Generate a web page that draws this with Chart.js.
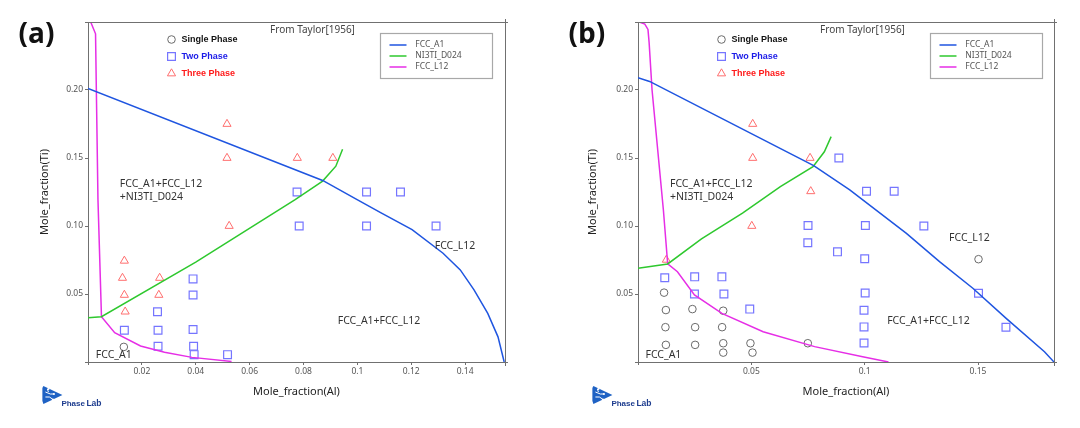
<!DOCTYPE html>
<html><head><meta charset="utf-8">
<script src="https://cdn.jsdelivr.net/npm/chart.js@4.4.1/dist/chart.umd.min.js"></script>
<style>
html,body{margin:0;padding:0;background:#fff;}
#wrap{position:relative;width:1080px;height:428px;overflow:hidden;}
canvas{position:absolute;top:0;}
#ca{left:0}#cb{left:540px}
</style></head><body>
<div id="wrap"><canvas id="ca" width="540" height="428"></canvas><canvas id="cb" width="540" height="428"></canvas></div>
<script>
// ---------- data ----------
const seriesNames = ['FCC_A1', 'NI3TI_D024', 'FCC_L12'];
const markerNames = ['Single Phase', 'Two Phase', 'Three Phase'];
const panelLabels = ['(a)', '(b)'];
const sourceNote = 'From Taylor[1956]';
const xTitle = 'Mole_fraction(Al)';
const yTitle = 'Mole_fraction(Ti)';

const yTickValues = [0, 0.05, 0.10, 0.15, 0.20, 0.25];
const yTickLabels = ['', '0.05', '0.10', '0.15', '0.20', ''];
const xTickValuesA = [0, 0.02, 0.04, 0.06, 0.08, 0.10, 0.12, 0.14];
const xTickLabelsA = ['', '0.02', '0.04', '0.06', '0.08', '0.1', '0.12', '0.14'];
const xTickValuesB = [0, 0.05, 0.10, 0.15];
const xTickLabelsB = ['', '0.05', '0.1', '0.15'];

// panel (a)
const fccA1_A = [[0,0.2012],[0.0871,0.1335],[0.0999,0.1194],[0.1088,0.1096],[0.1203,0.0973],[0.1318,0.080],[0.1382,0.0677],[0.1433,0.053],[0.1484,0.0357],[0.1522,0.0185],[0.1545,0]];
const ni3ti_A = [[0,0.0326],[0.005,0.0333],[0.04,0.0735],[0.0769,0.1194],[0.0871,0.133],[0.092,0.144],[0.0945,0.1564]];
const fccL12_A = [[0.001,0.25],[0.0028,0.2413],[0.0031,0.20],[0.0037,0.1194],[0.005,0.0333],[0.0099,0.0216],[0.0195,0.0118],[0.0284,0.0071],[0.0386,0.0034],[0.0533,0.0004]];
const single_A = [[0.0133,0.0111]];
const two_A = [[0.0776,0.125],[0.1034,0.125],[0.116,0.125],[0.0784,0.10],[0.1034,0.10],[0.1292,0.10],[0.039,0.0611],[0.039,0.0493],[0.0258,0.037],[0.0135,0.0234],[0.026,0.0234],[0.039,0.0239],[0.026,0.0116],[0.0392,0.0116],[0.0394,0.0054],[0.0518,0.0054]];
const three_A = [[0.0516,0.175],[0.0516,0.15],[0.0777,0.15],[0.0909,0.15],[0.0524,0.10],[0.0135,0.0744],[0.0128,0.0618],[0.0266,0.0618],[0.0135,0.0493],[0.0263,0.0493],[0.0138,0.037]];
const regionLabelsA = [['FCC_A1+FCC_L12',0.0118,0.1309],['+NI3TI_D024',0.0118,0.1213],['FCC_L12',0.1287,0.0853],['FCC_A1+FCC_L12',0.0927,0.0301],['FCC_A1',0.0029,0.0051]];

// panel (b)
const fccA1_B = [[0,0.2090],[0.0051,0.2063],[0.0775,0.1444],[0.0934,0.1265],[0.1184,0.0946],[0.133,0.0738],[0.1477,0.0542],[0.1624,0.0321],[0.1793,0.0076],[0.1835,0]];
const ni3ti_B = [[0,0.0689],[0.0131,0.0721],[0.028,0.0905],[0.0461,0.1095],[0.0628,0.1289],[0.0772,0.1436],[0.0822,0.1546],[0.0852,0.1657]];
const fccL12_B = [[0.0006,0.25],[0.003,0.2485],[0.0044,0.2445],[0.0049,0.235],[0.0062,0.20],[0.0112,0.1118],[0.0131,0.0721],[0.0174,0.0664],[0.0249,0.0493],[0.037,0.0358],[0.0552,0.0223],[0.0779,0.0113],[0.0991,0.0039],[0.1105,0]];
const single_B = [[0.0115,0.051],[0.0123,0.0382],[0.024,0.0389],[0.0376,0.0377],[0.0121,0.0256],[0.0252,0.0256],[0.0371,0.0256],[0.0123,0.0126],[0.0252,0.0126],[0.0376,0.0138],[0.0496,0.0138],[0.0749,0.0138],[0.0376,0.0069],[0.0505,0.0069],[0.1502,0.0756]];
const two_B = [[0.0886,0.150],[0.1008,0.1255],[0.113,0.1255],[0.075,0.1004],[0.1003,0.1004],[0.1261,0.100],[0.0749,0.0877],[0.088,0.081],[0.1,0.0759],[0.0118,0.062],[0.025,0.0626],[0.037,0.0626],[0.0249,0.05],[0.0379,0.05],[0.1002,0.0507],[0.1502,0.0505],[0.0493,0.0389],[0.0997,0.038],[0.0997,0.0258],[0.1623,0.0256],[0.0997,0.014]];
const three_B = [[0.0506,0.175],[0.0506,0.15],[0.0759,0.15],[0.0762,0.1255],[0.0502,0.10],[0.0125,0.0751]];
const regionLabelsB = [['FCC_A1+FCC_L12',0.0141,0.1309],['+NI3TI_D024',0.0141,0.1213],['FCC_L12',0.1372,0.0912],['FCC_A1+FCC_L12',0.1099,0.0301],['FCC_A1',0.0033,0.0051]];

// ---------- styles ----------
const lineColors = ['#1f55e0', '#2ec82e', '#e62ee6'];
const markerStyles = [
  {pointStyle:'circle', radius:3.8, borderWidth:1, color:'#6a6a6a', text:'#111111'},
  {pointStyle:'rect', radius:5.5, borderWidth:1.2, color:'#7575ff', text:'#1c1ce8'},
  {pointStyle:'triangle', radius:4.7, borderWidth:1, color:'#ff6e6e', text:'#ff1a1a'}
];
const FONT = "'Noto Sans', 'DejaVu Sans', sans-serif";

const toXY = arr => arr.map(p => ({x:p[0], y:p[1]}));

function lineDs(name, pts, color) {
  return {label:name, data:toXY(pts), showLine:true, borderColor:color, backgroundColor:color,
          borderWidth:1.5, pointRadius:0, tension:0, fill:false};
}
function markDs(name, pts, st) {
  return {label:name, data:toXY(pts), showLine:false, pointStyle:st.pointStyle, pointRadius:st.radius,
          pointBorderWidth:st.borderWidth, pointBorderColor:st.color, pointBackgroundColor:'rgba(0,0,0,0)'};
}

function drawLogo(ctx, x, y) {
  ctx.save();
  ctx.fillStyle = '#1f62c4';
  ctx.beginPath();
  ctx.moveTo(x+1, y+1);
  ctx.lineTo(x+20, y+10);
  ctx.lineTo(x+1, y+19);
  ctx.lineTo(x, y+16);
  ctx.lineTo(x, y+3);
  ctx.closePath();
  ctx.fill();
  ctx.strokeStyle = '#ffffff';
  ctx.lineWidth = 1;
  ctx.beginPath();
  ctx.moveTo(x+3, y+7); ctx.lineTo(x+8, y+9); ctx.lineTo(x+11, y+9);
  ctx.moveTo(x+3, y+12); ctx.lineTo(x+7, y+12); ctx.lineTo(x+10, y+14);
  ctx.moveTo(x+5, y+4); ctx.lineTo(x+6, y+7);
  ctx.stroke();
  ctx.fillStyle = '#ffffff';
  [[11.5,9],[10.5,14.5],[6,4]].forEach(p => { ctx.beginPath(); ctx.arc(x+p[0], y+p[1], 1.1, 0, Math.PI*2); ctx.fill(); });
  ctx.fillStyle = '#1d3c8e';
  ctx.textAlign = 'left'; ctx.textBaseline = 'alphabetic';
  ctx.font = "bold 8px 'Liberation Sans', Arial, sans-serif";
  ctx.fillText('Phase', x+19, y+20.5);
  ctx.font = "bold 8.5px 'Liberation Sans', Arial, sans-serif";
  ctx.fillText('Lab', x+44, y+20.5);
  ctx.restore();
}

const decor = {
  id: 'decor',
  afterDraw(chart, args, o) {
    const ctx = chart.ctx, ca = chart.chartArea, xs = chart.scales.x, ys = chart.scales.y;
    const L = ca.left, T = ca.top, R = ca.right, B = ca.bottom;
    ctx.save();
    // top and right frame
    ctx.strokeStyle = '#707070'; ctx.lineWidth = 1;
    ctx.beginPath();
    ctx.moveTo(L, Math.round(T)+0.5); ctx.lineTo(R+3, Math.round(T)+0.5);
    ctx.moveTo(Math.round(R)+0.5, T-3); ctx.lineTo(Math.round(R)+0.5, B+4);
    ctx.moveTo(R, Math.round(B)+0.5); ctx.lineTo(R+3, Math.round(B)+0.5);
    ctx.stroke();
    // region labels
    ctx.fillStyle = '#333'; ctx.font = "10.5px " + FONT; ctx.textAlign = 'left'; ctx.textBaseline = 'middle';
    o.regions.forEach(r => ctx.fillText(r[0], xs.getPixelForValue(r[1]), ys.getPixelForValue(r[2])));
    // source note
    ctx.fillStyle = '#444'; ctx.font = "10px " + FONT; ctx.textAlign = 'center';
    ctx.fillText(sourceNote, L + 224.5, 30);
    // line legend box
    ctx.strokeStyle = '#a8a8a8'; ctx.lineWidth = 1.2;
    ctx.strokeRect(Math.round(L+292.3)+0.5, 33.5, 112, 45);
    ctx.font = "8.5px " + FONT; ctx.textAlign = 'left';
    seriesNames.forEach((n, i) => {
      const yy = 45 + i*11;
      ctx.strokeStyle = lineColors[i]; ctx.lineWidth = 1.5;
      ctx.beginPath(); ctx.moveTo(L+301.5, yy); ctx.lineTo(L+318.5, yy); ctx.stroke();
      ctx.fillStyle = '#555'; ctx.fillText(n, L+327.3, yy);
    });
    // marker legend
    ctx.font = "bold 9px 'Liberation Sans', Arial, sans-serif";
    markerNames.forEach((n, i) => {
      const st = markerStyles[i], yy = 39.5 + i*17;
      ctx.strokeStyle = st.color; ctx.fillStyle = 'rgba(0,0,0,0)'; ctx.lineWidth = st.borderWidth;
      Chart.helpers.drawPoint(ctx, {pointStyle:st.pointStyle, radius:st.radius, borderWidth:st.borderWidth, rotation:0}, L+83.5, yy);
      ctx.fillStyle = st.text; ctx.fillText(n, L+93.5, yy);
    });
    // panel label
    ctx.fillStyle = '#111'; ctx.font = "bold 28px 'Open Sans', 'DejaVu Sans', sans-serif";
    ctx.textBaseline = 'middle';
    ctx.fillText(o.panel, L-69.5, 35);
    // logo
    drawLogo(ctx, L-45.6, 385);
    ctx.restore();
  }
};

function makeChart(id, cfg) {
  return new Chart(document.getElementById(id), {
    type: 'scatter',
    data: { datasets: [
      lineDs(seriesNames[0], cfg.a1, lineColors[0]),
      lineDs(seriesNames[1], cfg.d024, lineColors[1]),
      lineDs(seriesNames[2], cfg.l12, lineColors[2]),
      markDs(markerNames[0], cfg.single, markerStyles[0]),
      markDs(markerNames[1], cfg.two, markerStyles[1]),
      markDs(markerNames[2], cfg.three, markerStyles[2])
    ]},
    options: {
      responsive:false, animation:false, events:[],
      layout:{padding:{left:0, top:22, right:cfg.padRight, bottom:0}},
      plugins:{legend:{display:false}, tooltip:{enabled:false}, decor:{regions:cfg.regions, panel:cfg.panel}},
      scales:{
        x:{type:'linear', min:0, max:cfg.xMax,
           afterBuildTicks: s => { s.ticks = cfg.xTicks.map(v => ({value:v})); },
           afterFit: s => { s.height = 66; },
           ticks:{callback:(v,i) => cfg.xLabels[i], color:'#555', font:{family:FONT, size:8.5}, padding:1, maxRotation:0, autoSkip:false},
           grid:{drawOnChartArea:false, drawTicks:true, tickLength:3, color:'#707070', tickColor:'#707070'},
           border:{display:true, color:'#707070', width:1},
           title:{display:true, text:xTitle, color:'#222', font:{family:FONT, size:11}, padding:{top:0, bottom:29.4}}},
        y:{type:'linear', min:0, max:0.25,
           afterBuildTicks: s => { s.ticks = yTickValues.map(v => ({value:v})); },
           afterFit: s => { s.width = cfg.yWidth; },
           ticks:{callback:(v,i) => yTickLabels[i], color:'#555', font:{family:FONT, size:8.5}, padding:2, autoSkip:false},
           grid:{drawOnChartArea:false, drawTicks:true, tickLength:3, color:'#707070', tickColor:'#707070'},
           border:{display:true, color:'#707070', width:1},
           title:{display:true, text:yTitle, color:'#222', font:{family:FONT, size:11}, padding:{top:cfg.yTitlePad, bottom:0}}}
      }
    },
    plugins:[decor]
  });
}

makeChart('ca', {a1:fccA1_A, d024:ni3ti_A, l12:fccL12_A, single:single_A, two:two_A, three:three_A,
  regions:regionLabelsA, panel:panelLabels[0], xMax:0.1548, xTicks:xTickValuesA, xLabels:xTickLabelsA,
  yWidth:88, padRight:35, yTitlePad:38.4});
makeChart('cb', {a1:fccA1_B, d024:ni3ti_B, l12:fccL12_B, single:single_B, two:two_B, three:three_B,
  regions:regionLabelsB, panel:panelLabels[1], xMax:0.1835, xTicks:xTickValuesB, xLabels:xTickLabelsB,
  yWidth:98, padRight:26, yTitlePad:46.7});
</script>
</body></html>
